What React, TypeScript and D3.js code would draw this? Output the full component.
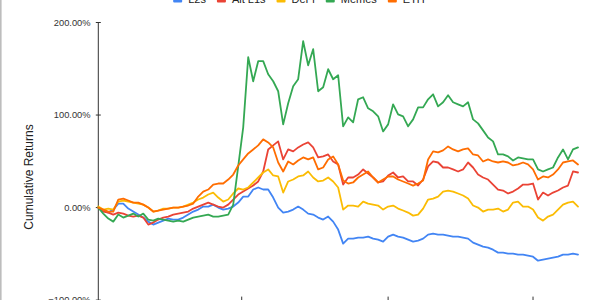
import React from "react";
import * as d3 from "d3";

const seriesNames = ["L2s", "Alt L1s", "DeFi", "Memes", "ETH"];

const l2s = [0,-3.2,-5.4,-2.2,4.3,4.3,-1.1,-4.3,-7.6,-10.8,-15.2,-18.4,-16.2,-14.1,-11.9,-13,-13,-10.8,-7.6,-4.3,-2.2,1.1,1.1,3.2,0,-2.2,-1.1,1.1,5.4,11.9,11.9,19.5,21.7,19.5,19.5,10.8,0,-5.4,-4.3,-2.2,1.1,-2.2,-6.5,-7.6,-10.8,-13,-9.7,-15.2,-23.8,-39,-33.6,-33.6,-32.5,-32.5,-31.4,-33.6,-34.7,-36.8,-31.4,-29.2,-31.4,-32.5,-34.7,-36.8,-35.7,-33.6,-29.2,-28.2,-29.2,-29.2,-30.3,-31.4,-31.4,-32.5,-33.6,-37.9,-40.1,-42.2,-43.3,-45.5,-48.7,-48.7,-49.8,-49.8,-50.9,-50.9,-52,-53.1,-57.4,-56.3,-55.3,-54.2,-53.1,-50.9,-50.9,-49.8,-50.9];

const altL1s = [0,-4.3,-5.4,-7.6,-5.4,-6.5,-8.7,-9.7,-8.7,-10.8,-18.4,-16.2,-13,-10.8,-9.7,-7.6,-6.5,-5.4,-4.3,-1.1,1.1,3.2,5.4,3.2,1.1,0,3.2,8.7,14.1,17.3,20.6,23.8,28.2,39,62.8,67.2,71.5,52,62.8,60.7,65,68.2,70.4,65,54.2,55.3,57.4,49.8,46.6,24.9,32.5,32.5,35.7,41.2,36.8,32.5,27.1,28.2,34.7,37.9,32.5,33.6,28.2,28.2,23.8,30.3,44.4,49.8,48.7,43.3,43.3,41.2,39,41.2,48.7,43.3,35.7,32.5,30.3,24.9,19.5,18.4,15.2,17.3,20.6,24.9,24.9,26,8.7,16.2,13,16.2,18.4,21.7,23.8,39,37.9];

const defi = [1.1,-2.2,-1.1,-2.2,6.5,7.6,6.5,5.4,4.3,3.2,0,-4.3,-3.2,-1.1,-1.1,0,0,1.1,3.2,5.4,8.7,10.8,14.1,16.2,10.8,6.5,8.7,15.2,20.6,19.5,21.7,27.1,32.5,37.9,41.2,34.7,33.6,16.2,28.2,30.3,33.6,34.7,39,32.5,28.2,29.2,32.5,28.2,21.7,-2.2,2.2,2.2,1.1,6.5,4.3,3.2,2.2,-2.2,1.1,2.2,-1.1,-3.2,-5.4,-8.7,-7.6,-1.1,8.7,9.7,11.9,17.3,18.4,17.3,15.2,13,9.7,2.2,0,-4.3,-2.2,-2.2,-1.1,-4.3,-2.2,5.4,6.5,1.1,1.1,-2.2,-10.8,-14.1,-9.7,-7.6,-2.2,3.2,5.4,6.5,1.1];

const memes = [0,-6.5,-11.9,-15.2,-7.6,-10.8,-8.7,-6.5,-9.7,-6.5,-13,-14.1,-11.9,-13,-14.1,-15.2,-14.1,-15.2,-13,-10.8,-9.7,-8.7,-7.6,-9.7,-9.7,-8.7,-7.6,3.2,44.4,86.7,162.5,136.5,158.2,158.2,144.1,136.5,125.7,89.9,112.7,131.1,138.7,179.8,153.8,171.2,125.7,130,149.5,138.7,143,87.8,97.5,92.1,117,119.2,107.3,104,98.6,82.3,89.9,111.6,100.8,98.6,87.8,95.3,108.3,108.3,117,122.4,109.4,113.8,121.3,113.8,111.6,109.4,113.8,95.3,91,83.4,75.8,71.5,57.4,57.4,55.3,50.9,54.2,53.1,52,52,41.2,39,41.2,43.3,54.2,62.8,52,62.8,65];

const eth = [0,-2.2,-4.3,-4.3,8.7,9.7,7.6,5.4,5.4,3.2,0,-4.3,-3.2,-2.2,-1.1,0,0,1.1,2.2,4.3,11.9,17.3,19.5,24.9,26,26,30.3,35.7,45.5,52,58.5,62.8,67.2,73.7,70.4,65,48.7,39,49.8,46.6,50.9,54.2,52,54.2,41.2,43.3,52,55.3,46.6,29.2,26,27.1,32.5,35.7,39,32.5,27.1,30.3,33.6,33.6,30.3,28.2,26,23.8,26,29.2,52,60.7,59.6,61.8,66.1,62.8,60.7,62.8,63.9,57.4,56.3,49.8,52,49.8,48.7,49.8,48.7,45.5,46.6,48.7,46.6,41.2,30.3,33.6,32.5,35.7,41.2,48.7,49.8,50.9,46.6];

const yTicks = [-100, 0, 100, 200];
const xTickIndices = [28.7, 58, 87];

const seriesData = [l2s, altL1s, defi, memes, eth];
const colors = ["#4285F4", "#EA4335", "#FBBC04", "#34A853", "#FF6D01"];
const FONT = "'Liberation Sans', Arial, sans-serif";

function measure(text: string, size: number): number {
  const c = document.createElement("canvas").getContext("2d");
  if (!c) return text.length * size * 0.55;
  c.font = `${size}px ${FONT}`;
  return c.measureText(text).width;
}

export default function App() {
  const W = 600, H = 300;
  const n = l2s.length;
  const x = d3.scaleLinear().domain([0, n - 1]).range([98.3, 578]);
  const y = d3.scaleLinear().domain([-100, 200]).range([300.1, 22.5]);
  const line = d3.line<number>().x((_, i) => x(i)).y((d) => y(d));

  // legend layout
  const legendFont = 11;
  const sq = 9, sqGap = 6, itemGap = 11;
  const widths = seriesNames.map((s) => measure(s, legendFont));
  const total = widths.reduce((a, w) => a + sq + sqGap + w, 0) + itemGap * (seriesNames.length - 1);
  let cx = 299 - total / 2;
  const legendItems = seriesNames.map((s, i) => {
    const item = { name: s, x: cx, color: colors[i] };
    cx += sq + sqGap + widths[i] + itemGap;
    return item;
  });

  const axisX = x(0);

  return (
    <svg
      width={W}
      height={H}
      style={{ position: "fixed", left: 0, top: 0, background: "#fff" }}
      fontFamily={FONT}
    >
      <rect x={0} y={0} width={W} height={H} fill="#fff" />
      <line x1={0.8} x2={0.8} y1={0} y2={H} stroke="#bdbdbd" strokeWidth={1.6} />

      {/* legend */}
      {legendItems.map((it) => (
        <g key={it.name}>
          <rect x={it.x} y={-7} width={sq} height={9.5} rx={1} fill={it.color} />
          <text x={it.x + sq + sqGap} y={3} fontSize={legendFont} fill="#222">
            {it.name}
          </text>
        </g>
      ))}

      {/* y axis title */}
      <text
        transform={`translate(33,177) rotate(-90)`}
        textAnchor="middle"
        fontSize={12}
        fill="#222"
      >
        Cumulative Returns
      </text>

      {/* y axis */}
      <line x1={axisX} x2={axisX} y1={y(200)} y2={H} stroke="#333" strokeWidth={1} />
      {yTicks.map((t) => (
        <g key={t}>
          <line x1={axisX - 2.5} x2={axisX + 2.5} y1={y(t)} y2={y(t)} stroke="#333" strokeWidth={1} />
          <text x={90.5} y={y(t)} dy="0.34em" textAnchor="end" fontSize={9.3} fill="#333">
            {d3.format(".2f")(t) + "%"}
          </text>
        </g>
      ))}

      {/* x ticks */}
      {xTickIndices.map((t) => (
        <line key={t} x1={x(t)} x2={x(t)} y1={y(-100) - 3.5} y2={y(-100) + 3} stroke="#333" strokeWidth={1} />
      ))}

      {/* series */}
      {seriesData.map((d, i) => (
        <path
          key={seriesNames[i]}
          d={line(d) || ""}
          fill="none"
          stroke={colors[i]}
          strokeWidth={1.8}
          strokeLinejoin="round"
          strokeLinecap="round"
        />
      ))}
    </svg>
  );
}
